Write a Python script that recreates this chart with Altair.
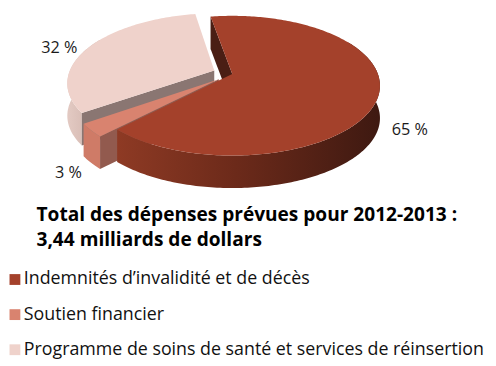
import math
import numpy as np
import pandas as pd
import altair as alt

# ---------------- data ----------------
categories = [
    "Indemnités d’invalidité et de décès",
    "Soutien financier",
    "Programme de soins de santé et services de réinsertion",
]
values = [65, 3, 32]
label_text = ["65 %", "3 %", "32 %"]
title_lines = ["Total des dépenses prévues pour 2012-2013 :", "3,44 milliards de dollars"]

# ---------------- style ----------------
top_colors = ["#A4412B", "#D9836F", "#EFD2CB"]
wall_colors = ["#4A1E14", "#925A4E", "#8A7672"]
side_fill = [
    alt.LinearGradient(gradient="linear", x1=0, x2=1, y1=0, y2=0,
                       stops=[alt.GradientStop(color="#8E3A24", offset=0),
                              alt.GradientStop(color="#6C2A1A", offset=0.45),
                              alt.GradientStop(color="#3E1911", offset=1)]),
    "#CF7B67",
    alt.LinearGradient(gradient="linear", x1=0, x2=1, y1=0, y2=0,
                       stops=[alt.GradientStop(color="#E3CAC3", offset=0),
                              alt.GradientStop(color="#CDB0A8", offset=1)]),
]
explode = [0.0, 0.12, 0.135]
start_deg = -10.0
CX, CY, A, B, P, DEPTH = 236.0, 72.0, 148.0, 69.0, 0.169, 33.0
label_r = [1.2, 1.155, 1.265]
label_h = [31, 34, 8]
FONT = "Open Sans"

# ---------------- geometry from values ----------------
total = sum(values)
starts, ends = [], []
a = start_deg
for v in values:
    starts.append(a)
    a += v / total * 360.0
    ends.append(a)
bis = [(s + e) / 2 for s, e in zip(starts, ends)]


def proj(theta, r, k, h):
    t = math.radians(theta)
    b = math.radians(bis[k])
    u = r * math.sin(t) + explode[k] * math.sin(b)
    v = -r * math.cos(t) - explode[k] * math.cos(b)
    d = 1 - P * v
    return CX + A * u / d, CY + B * v / d + h


def arc(k, a1, a2, h):
    n = max(2, int(abs(a2 - a1)) + 1)
    return [proj(t, 1.0, k, h) for t in np.linspace(a1, a2, n)]


def poly_df(pts, **extra):
    df = pd.DataFrame(pts, columns=["x", "y"])
    df["i"] = range(len(df))
    for key, val in extra.items():
        df[key] = val
    return df


X = alt.X("x:Q", scale=alt.Scale(domain=[8, 496], nice=False, zero=False), axis=None)
Y = alt.Y("y:Q", scale=alt.Scale(domain=[8, 366], nice=False, zero=False, reverse=True), axis=None)

legend = alt.Legend(
    orient="none", legendX=-2, legendY=264, title=None, symbolType="square",
    symbolSize=121, symbolStrokeWidth=0, labelFont=FONT, labelFontSize=18.1,
    labelColor="#111111", labelLimit=600, rowPadding=16.7, padding=0, labelOffset=0,
    direction="vertical",
)


def shape(df, fill):
    return alt.Chart(df).mark_line(interpolate="linear-closed", fill=fill, strokeWidth=0).encode(
        x=X, y=Y, order="i:Q")


def top(k):
    pts = [proj(0, 0.0, k, 0)] + arc(k, starts[k], ends[k], 0)
    df = poly_df(pts, cat=categories[k])
    return alt.Chart(df).mark_line(interpolate="linear-closed", strokeWidth=0).encode(
        x=X, y=Y, order="i:Q",
        fill=alt.Fill("cat:N", scale=alt.Scale(domain=categories, range=top_colors),
                      legend=legend, sort=categories))


def side(k):
    s1 = max(starts[k], 60)
    s2 = min(ends[k], 300)
    pts = arc(k, s1, s2, 0) + arc(k, s2, s1, DEPTH)
    return shape(poly_df(pts), side_fill[k])


def wall(k, theta):
    pts = [proj(theta, 0.0, k, 0), proj(theta, 1.0, k, 0),
           proj(theta, 1.0, k, DEPTH), proj(theta, 0.0, k, DEPTH)]
    return shape(poly_df(pts), wall_colors[k])


layers = [
    wall(0, starts[0]),
    side(2), wall(2, starts[2]), top(2),
    side(1), wall(1, starts[1]), top(1),
    side(0), top(0),
]

lab_rows = []
for k in range(3):
    x, y = proj(bis[k], label_r[k], k, label_h[k])
    lab_rows.append({"x": x, "y": y, "t": label_text[k]})
labels = alt.Chart(pd.DataFrame(lab_rows)).mark_text(
    font=FONT, fontSize=16.5, color="#1A1A1A", align="center", baseline="middle"
).encode(x=X, y=Y, text="t:N")
layers.append(labels)

chart = alt.layer(*layers).properties(
    width=488, height=358, padding=0,
    autosize=alt.AutoSizeParams(type="none"),
    title=alt.TitleParams(text=title_lines, orient="bottom", anchor="start", frame="group",
                          dx=29, offset=-159, font=FONT, fontSize=19.4, fontWeight="bold",
                          color="#000000", lineHeight=25, baseline="top"),
).configure_view(strokeWidth=0)

chart.save("out.html", embed_options={"renderer": "svg", "actions": False})
